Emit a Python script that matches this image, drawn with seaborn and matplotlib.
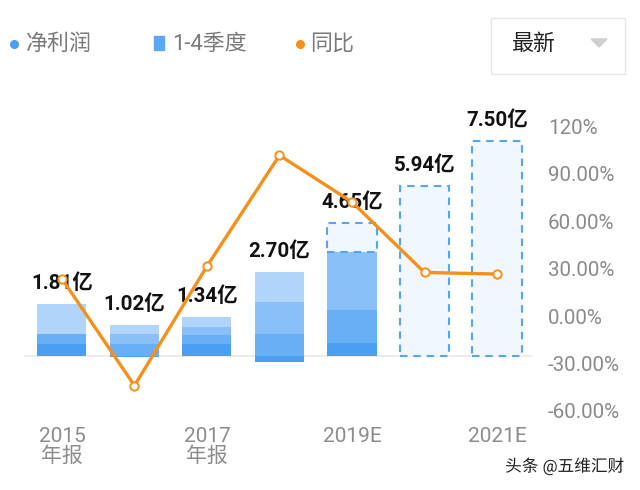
import numpy as np
import pandas as pd
import matplotlib
matplotlib.use("Agg")
import matplotlib.pyplot as plt
from matplotlib.lines import Line2D
from matplotlib.patches import Rectangle, Polygon
import matplotlib.patheffects as pe
import seaborn as sns

# ---------------- data ----------------
years = ["2015", "2016", "2017", "2018", "2019E", "2020E", "2021E"]
totals = [1.81, 1.02, 1.34, 2.70, 4.65, 5.94, 7.50]          # 净利润 (亿)
q1 = [0.41, -0.06, 0.41, -0.23, 0.44, 0.0, 0.0]
q2 = [0.35, 0.40, 0.29, 0.76, 1.15, 0.0, 0.0]
q3 = [0.00, 0.35, 0.29, 1.10, 2.04, 0.0, 0.0]
q4 = [1.05, 0.33, 0.35, 1.07, 0.00, 0.0, 0.0]
yoy = [23.5, -44.0, 31.5, 101.5, 72.0, 27.5, 26.5]             # 同比 (%)
xtick_labels = ["2015\n年报", "2017\n年报", "2019E", "2021E"]
pct_ticks = [-60, -30, 0, 30, 60, 90, 120]

# ---------------- style ----------------
sns.set_theme(style="white")
FAM = ["Roboto", "Noto Sans CJK SC", "DejaVu Sans"]
plt.rcParams["font.family"] = FAM
plt.rcParams["axes.unicode_minus"] = False

W, H = 640, 490
fig = plt.figure(figsize=(W / 100, H / 100), dpi=100)
fig.patch.set_facecolor("white")

L, R, T, B = 20, 540, 100, 420
ax = fig.add_axes([L / W, (H - B) / H, (R - L) / W, (B - T) / H])
ax2 = ax.twinx()

q_colors = ["#4a9ff2", "#68aff5", "#88c0f7", "#b0d4fa"]
quarters = [q1, q2, q3, q4]
bw = 0.676

pos_base = np.zeros(len(years))
neg_base = np.zeros(len(years))
for qv, c in zip(quarters, q_colors):
    qv = np.array(qv, dtype=float)
    bottoms = np.where(qv >= 0, pos_base, neg_base)
    df = pd.DataFrame({"year": years, "v": qv})
    sns.barplot(data=df, x="year", y="v", bottom=bottoms, color=c, order=years,
                width=bw, saturation=1, ax=ax, linewidth=0, zorder=2)
    pos_base = pos_base + np.where(qv > 0, qv, 0)
    neg_base = neg_base + np.where(qv < 0, qv, 0)

# forecast (dashed) part
totals_arr = np.array(totals)
fc = totals_arr - pos_base - neg_base
mask = fc > 0.05
df_fc = pd.DataFrame({"year": np.array(years)[mask], "v": fc[mask]})
sns.barplot(data=df_fc, x="year", y="v", bottom=pos_base[mask], order=years,
            color="#f1f7fe", width=bw, saturation=1, ax=ax, edgecolor="#55a6ef",
            linewidth=1.5, linestyle=(0, (3.6, 2.8)), zorder=2)

ax.axhline(0, color="#e9e9e9", lw=1.2, zorder=1, xmin=0.01, xmax=0.985)

# value labels
tops = np.maximum(pos_base, totals_arr)
for i, (t, v) in enumerate(zip(tops, totals)):
    ax.annotate(f"{v:.2f}亿", (i, t), xytext=(0, 15), textcoords="offset points",
                ha="center", va="center", fontsize=14.8, fontweight="bold",
                color="#111111", zorder=4, family=FAM)

ax.set_xlim(-0.579, 6.593)
ax.set_ylim(-(B - 355.5) / 28.6, (355.5 - T) / 28.6)
ax.set_xticks([0, 2, 4, 6])
ax.set_xticklabels(xtick_labels, fontsize=15, color="#8c8c8c", linespacing=1.05)
ax.tick_params(axis="x", length=0, pad=5)
ax.set_yticks([])
ax.set_xlabel("")
ax.set_ylabel("")
for s in ax.spines.values():
    s.set_visible(False)

# yoy line
df_line = pd.DataFrame({"x": np.arange(len(years)), "yoy": yoy})
sns.lineplot(data=df_line, x="x", y="yoy", ax=ax2, color="#f5901c", lw=2.4,
             marker="o", markersize=6, markerfacecolor="white",
             markeredgecolor="#f5901c", markeredgewidth=1.4, zorder=5)
ax2.set_ylim(-(B - 316) / 1.583, (316 - T) / 1.583)
ax2.set_yticks(pct_ticks)
ax2.set_yticklabels([f"{v}%" if v == 120 else f"{v:.2f}%" for v in pct_ticks],
                    fontsize=14.8, color="#8a8a8a")
ax2.tick_params(axis="y", length=0, pad=5.8)
ax2.set_xlabel("")
ax2.set_ylabel("")
for s in ax2.spines.values():
    s.set_visible(False)
ax.set_zorder(1)
ax2.set_zorder(2)
ax2.patch.set_visible(False)
ax.set_xlim(-0.579, 6.593)
ax2.set_xlim(-0.579, 6.593)

# ---------------- header legend ----------------
def fx(px):
    return px / W

def fy(py):
    return 1 - py / H

ytxt = 44
fig.add_artist(Line2D([fx(14)], [fy(ytxt)], marker="o", markersize=5.5,
                      color="#4a9ff2", lw=0))
fig.text(fx(26), fy(ytxt), "净利润", fontsize=15.8, color="#7a7a7a",
         va="center", ha="left", family=FAM)
fig.add_artist(Rectangle((fx(154), fy(50)), fx(10), 14 / H, color="#5aa8f3",
                         transform=fig.transFigure))
fig.text(fx(172), fy(ytxt), "1-4季度", fontsize=15.8, color="#7a7a7a",
         va="center", ha="left", family=FAM)
fig.add_artist(Line2D([fx(300)], [fy(ytxt)], marker="o", markersize=5.5,
                      color="#f5901c", lw=0))
fig.text(fx(310), fy(ytxt), "同比", fontsize=15.8, color="#7a7a7a",
         va="center", ha="left", family=FAM)

# dropdown box
fig.add_artist(Rectangle((fx(491), fy(74)), fx(134), 56 / H, facecolor="white",
                         edgecolor="#e6e6e6", lw=1.0, transform=fig.transFigure))
fig.text(fx(534), fy(ytxt), "最新", fontsize=15.8, color="#222222",
         va="center", ha="center", family=FAM)
fig.add_artist(Polygon([[fx(591), fy(39)], [fx(607), fy(39)], [fx(599), fy(47)]],
                       closed=True, color="#cfcfcf", transform=fig.transFigure))

# watermark
fig.text(fx(624), fy(466), "头条 @五维汇财", fontsize=12, color="#222222",
         va="center", ha="right", family=FAM,
         path_effects=[pe.withStroke(linewidth=2.5, foreground="white")])

fig.savefig("out.png", dpi=100, facecolor="white")
